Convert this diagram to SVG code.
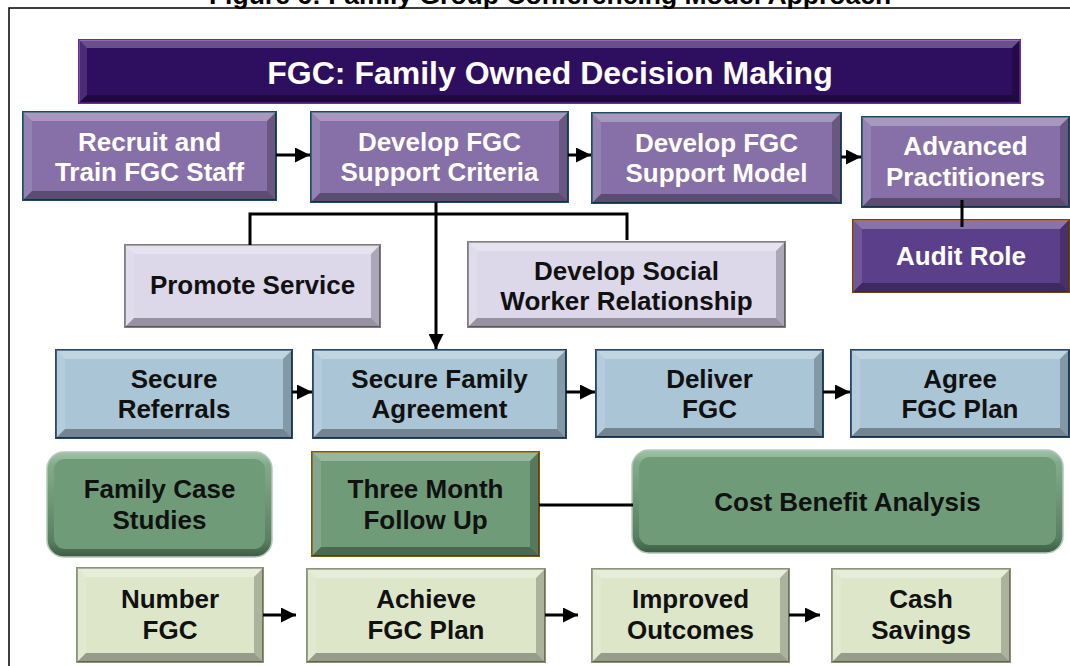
<svg xmlns="http://www.w3.org/2000/svg" width="1070" height="666" viewBox="0 0 1070 666">
<defs>
<style>
.t{font-family:"Liberation Sans",Arial,sans-serif;font-weight:bold;font-size:26px;text-anchor:middle}
.tw{fill:#fff}
.tk{fill:#111}
.bt{fill:#fff;fill-opacity:.28}
.bl{fill:#fff;fill-opacity:.13}
.br{fill:#000;fill-opacity:.22}
.bb{fill:#000;fill-opacity:.32}
.ban{fill:#2e0e5e;stroke:#6b2e9c;stroke-width:2}
.pur{fill:#8770a7;stroke:#1f4a66;stroke-width:2}
.aud{fill:#5b3f8b;stroke:#7a3c1c;stroke-width:2}
.lav{fill:#ddd7ea;stroke:#7f7f7f;stroke-width:2}
.blu{fill:#a9c5d6;stroke:#26476a;stroke-width:2}
.grn{fill:#6f9b79;stroke:#7a5a12;stroke-width:2}
.pal{fill:#dde6c9;stroke:#8a9478;stroke-width:2}
.rnd{fill:url(#gEdge);stroke:#b3c8b6;stroke-width:1.5}
.rin{fill:#6f9b79}
.ln{fill:none;stroke:#000;stroke-width:3}
.ar{fill:none;stroke:#000;stroke-width:3;marker-end:url(#ah)}
</style>
<linearGradient id="gEdge" x1="0" y1="0" x2="0" y2="1">
<stop offset="0" stop-color="#a2c4a9"/>
<stop offset="0.12" stop-color="#82ab8b"/>
<stop offset="0.85" stop-color="#587f61"/>
<stop offset="1" stop-color="#3c5c44"/>
</linearGradient>
<marker id="ah" markerUnits="userSpaceOnUse" markerWidth="15" markerHeight="15" refX="15" refY="7.5" orient="auto">
<path d="M0,0L15,7.5L0,15z" fill="#000"/>
</marker>
</defs>
<rect width="1070" height="666" fill="#fff"/>
<text x="550" y="3.5" class="t tk" style="font-size:26.5px;fill:#000">Figure 6: Family Group Conferencing Model Approach</text>
<path d="M9,666V8H1070" fill="none" stroke="#000" stroke-width="1.5"/>

<g id="n-banner">
<rect x="79" y="40" width="941" height="63" class="ban"/>
<path class="bt" d="M79,40h941l-8,8h-925z"/>
<path class="bl" d="M79,40l8,8v47l-8,8z"/>
<path class="br" d="M1020,40v63l-8,-8v-47z"/>
<path class="bb" d="M79,103l8,-8h925l8,8z"/>
<text x="550" y="84" class="t tw" style="font-size:32px">FGC: Family Owned Decision Making</text>
</g>

<g id="n-recruit">
<rect x="23" y="112" width="253" height="88" class="pur"/>
<path class="bt" d="M23,112h253l-9,9h-235z"/>
<path class="bl" d="M23,112l9,9v70l-9,9z"/>
<path class="br" d="M276,112v88l-9,-9v-70z"/>
<path class="bb" d="M23,200l9,-9h235l9,9z"/>
<text class="t tw"><tspan x="149.5" y="151">Recruit and</tspan><tspan x="149.5" y="181">Train FGC Staff</tspan></text>
</g>

<g id="n-criteria">
<rect x="311" y="112" width="257" height="90" class="pur"/>
<path class="bt" d="M311,112h257l-9,9h-239z"/>
<path class="bl" d="M311,112l9,9v72l-9,9z"/>
<path class="br" d="M568,112v90l-9,-9v-72z"/>
<path class="bb" d="M311,202l9,-9h239l9,9z"/>
<text class="t tw"><tspan x="439.5" y="151">Develop FGC</tspan><tspan x="439.5" y="181">Support Criteria</tspan></text>
</g>

<g id="n-model">
<rect x="592" y="113" width="249" height="90" class="pur"/>
<path class="bt" d="M592,113h249l-9,9h-231z"/>
<path class="bl" d="M592,113l9,9v72l-9,9z"/>
<path class="br" d="M841,113v90l-9,-9v-72z"/>
<path class="bb" d="M592,203l9,-9h231l9,9z"/>
<text class="t tw"><tspan x="716.5" y="152">Develop FGC</tspan><tspan x="716.5" y="182">Support Model</tspan></text>
</g>

<g id="n-advanced">
<rect x="862" y="117" width="207" height="90" class="pur"/>
<path class="bt" d="M862,117h207l-9,9h-189z"/>
<path class="bl" d="M862,117l9,9v72l-9,9z"/>
<path class="br" d="M1069,117v90l-9,-9v-72z"/>
<path class="bb" d="M862,207l9,-9h189l9,9z"/>
<text class="t tw"><tspan x="965.5" y="155">Advanced</tspan><tspan x="965.5" y="186">Practitioners</tspan></text>
</g>

<g id="n-audit">
<rect x="853" y="220" width="216" height="72" class="aud"/>
<path class="bt" d="M853,220h216l-9,9h-198z"/>
<path class="bl" d="M853,220l9,9v54l-9,9z"/>
<path class="br" d="M1069,220v72l-9,-9v-54z"/>
<path class="bb" d="M853,292l9,-9h198l9,9z"/>
<text x="961" y="265" class="t tw">Audit Role</text>
</g>

<g id="n-promote">
<rect x="125" y="245" width="255" height="82" class="lav"/>
<path class="bt" d="M125,245h255l-9,9h-237z"/>
<path class="bl" d="M125,245l9,9v64l-9,9z"/>
<path class="br" d="M380,245v82l-9,-9v-64z"/>
<path class="bb" d="M125,327l9,-9h237l9,9z"/>
<text x="252.5" y="294" class="t tk">Promote Service</text>
</g>

<g id="n-social">
<rect x="468" y="242" width="317" height="85" class="lav"/>
<path class="bt" d="M468,242h317l-9,9h-299z"/>
<path class="bl" d="M468,242l9,9v67l-9,9z"/>
<path class="br" d="M785,242v85l-9,-9v-67z"/>
<path class="bb" d="M468,327l9,-9h299l9,9z"/>
<text class="t tk"><tspan x="626.5" y="280">Develop Social</tspan><tspan x="626.5" y="310">Worker Relationship</tspan></text>
</g>

<g id="n-referrals">
<rect x="56" y="350" width="236" height="88" class="blu"/>
<path class="bt" d="M56,350h236l-9,9h-218z"/>
<path class="bl" d="M56,350l9,9v70l-9,9z"/>
<path class="br" d="M292,350v88l-9,-9v-70z"/>
<path class="bb" d="M56,438l9,-9h218l9,9z"/>
<text class="t tk"><tspan x="174" y="388">Secure</tspan><tspan x="174" y="418">Referrals</tspan></text>
</g>

<g id="n-agreement">
<rect x="313" y="350" width="253" height="88" class="blu"/>
<path class="bt" d="M313,350h253l-9,9h-235z"/>
<path class="bl" d="M313,350l9,9v70l-9,9z"/>
<path class="br" d="M566,350v88l-9,-9v-70z"/>
<path class="bb" d="M313,438l9,-9h235l9,9z"/>
<text class="t tk"><tspan x="439.5" y="388">Secure Family</tspan><tspan x="439.5" y="418">Agreement</tspan></text>
</g>

<g id="n-deliver">
<rect x="596" y="350" width="227" height="87" class="blu"/>
<path class="bt" d="M596,350h227l-9,9h-209z"/>
<path class="bl" d="M596,350l9,9v69l-9,9z"/>
<path class="br" d="M823,350v87l-9,-9v-69z"/>
<path class="bb" d="M596,437l9,-9h209l9,9z"/>
<text class="t tk"><tspan x="709.5" y="388">Deliver</tspan><tspan x="709.5" y="418">FGC</tspan></text>
</g>

<g id="n-agree">
<rect x="851" y="350" width="218" height="87" class="blu"/>
<path class="bt" d="M851,350h218l-9,9h-200z"/>
<path class="bl" d="M851,350l9,9v69l-9,9z"/>
<path class="br" d="M1069,350v87l-9,-9v-69z"/>
<path class="bb" d="M851,437l9,-9h200l9,9z"/>
<text class="t tk"><tspan x="960" y="388">Agree</tspan><tspan x="960" y="418">FGC Plan</tspan></text>
</g>

<g id="n-casestudies">
<rect x="47" y="452" width="225" height="105" rx="17" class="rnd"/>
<rect x="54" y="459" width="211" height="90" rx="11" class="rin"/>
<text class="t tk"><tspan x="159.5" y="498">Family Case</tspan><tspan x="159.5" y="529">Studies</tspan></text>
</g>

<g id="n-threemonth">
<rect x="312" y="452" width="227" height="104" class="grn"/>
<path class="bt" d="M312,452h227l-9,9h-209z"/>
<path class="bl" d="M312,452l9,9v86l-9,9z"/>
<path class="br" d="M539,452v104l-9,-9v-86z"/>
<path class="bb" d="M312,556l9,-9h209l9,9z"/>
<text class="t tk"><tspan x="425.5" y="498">Three Month</tspan><tspan x="425.5" y="529">Follow Up</tspan></text>
</g>

<g id="n-costbenefit">
<rect x="632" y="450" width="431" height="103" rx="17" class="rnd"/>
<rect x="639" y="457" width="417" height="88" rx="11" class="rin"/>
<text x="847.5" y="511" class="t tk">Cost Benefit Analysis</text>
</g>

<g id="n-number">
<rect x="77" y="568" width="186" height="94" class="pal"/>
<path class="bt" d="M77,568h186l-9,9h-168z"/>
<path class="bl" d="M77,568l9,9v76l-9,9z"/>
<path class="br" d="M263,568v94l-9,-9v-76z"/>
<path class="bb" d="M77,662l9,-9h168l9,9z"/>
<text class="t tk"><tspan x="170" y="608">Number</tspan><tspan x="170" y="639">FGC</tspan></text>
</g>

<g id="n-achieve">
<rect x="307" y="569" width="238" height="93" class="pal"/>
<path class="bt" d="M307,569h238l-9,9h-220z"/>
<path class="bl" d="M307,569l9,9v75l-9,9z"/>
<path class="br" d="M545,569v93l-9,-9v-75z"/>
<path class="bb" d="M307,662l9,-9h220l9,9z"/>
<text class="t tk"><tspan x="426" y="608">Achieve</tspan><tspan x="426" y="639">FGC Plan</tspan></text>
</g>

<g id="n-improved">
<rect x="592" y="569" width="197" height="93" class="pal"/>
<path class="bt" d="M592,569h197l-9,9h-179z"/>
<path class="bl" d="M592,569l9,9v75l-9,9z"/>
<path class="br" d="M789,569v93l-9,-9v-75z"/>
<path class="bb" d="M592,662l9,-9h179l9,9z"/>
<text class="t tk"><tspan x="690.5" y="608">Improved</tspan><tspan x="690.5" y="639">Outcomes</tspan></text>
</g>

<g id="n-cash">
<rect x="832" y="569" width="178" height="93" class="pal"/>
<path class="bt" d="M832,569h178l-9,9h-160z"/>
<path class="bl" d="M832,569l9,9v75l-9,9z"/>
<path class="br" d="M1010,569v93l-9,-9v-75z"/>
<path class="bb" d="M832,662l9,-9h160l9,9z"/>
<text class="t tk"><tspan x="921" y="608">Cash</tspan><tspan x="921" y="639">Savings</tspan></text>
</g>

<g id="connectors">
<path class="ar" d="M276,155H310"/>
<path class="ar" d="M568,155H591"/>
<path class="ar" d="M841,157H861"/>
<path class="ln" d="M962,200V227"/>
<path class="ar" d="M436,202V349"/>
<path class="ln" d="M250,245V214H627V240"/>
<path class="ar" d="M292,392H312"/>
<path class="ar" d="M566,392H595"/>
<path class="ar" d="M823,392H850"/>
<path class="ln" d="M539,505H633"/>
<path class="ar" d="M263,615H296"/>
<path class="ar" d="M545,615H578"/>
<path class="ar" d="M789,615H820"/>
</g>
</svg>
